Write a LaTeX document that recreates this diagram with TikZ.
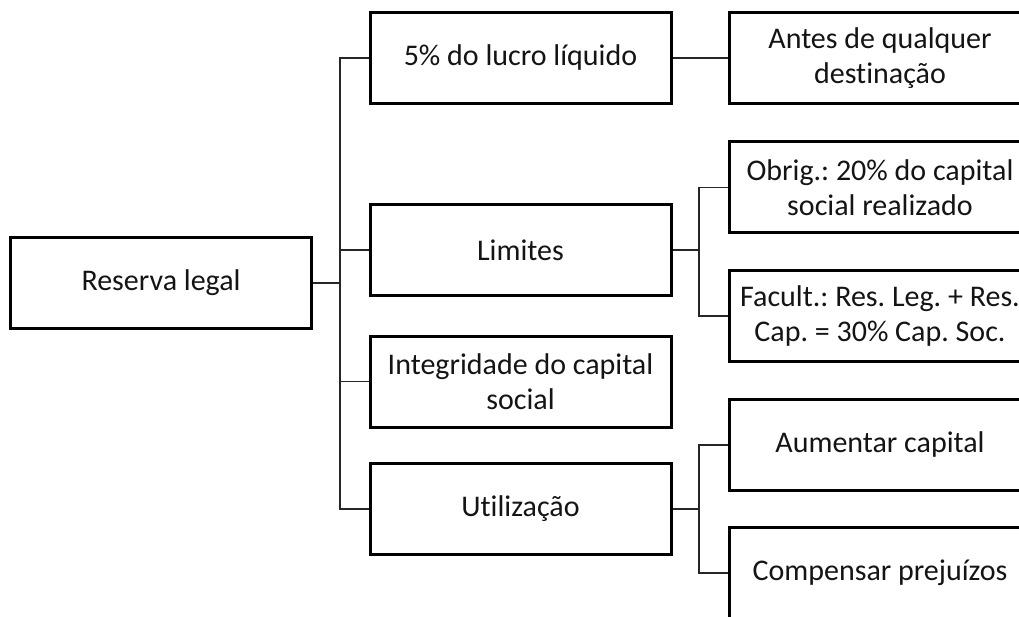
\documentclass[tikz,border=0pt]{standalone}
\usepackage{fontspec}
\setmainfont[Ligatures=NoCommon]{Carlito}
\frenchspacing
\begin{document}
\begin{tikzpicture}[x=1pt,y=-1pt,
  box/.style={draw=black, line width=3pt, minimum width=301pt, minimum height=91pt, inner sep=2pt,
    align=center, font=\fontsize{30}{35.5}\selectfont, text=black!92},
  conn/.style={draw=black!85, line width=1.6pt}]
\clip (0,0) rectangle (1019,617);
\useasboundingbox (0,0) rectangle (1019,617);
\node[box] (rl) at (161,283) {Reserva legal};
\node[box] (p1) at (520.5,58) {5\% do lucro líquido};
\node[box] (p2) at (520.5,250) {Limites};
\node[box] (p3) at (520.5,381.5) {Integridade do capital\\social};
\node[box] (p4) at (520.5,509) {Utilização};
\node[box] (c1) at (880,58) {Antes de qualquer\\destinação};
\node[box] (c2) at (880,187.5) {Obrig.: 20\% do capital\\social realizado};
\node[box] (c3) at (880,316) {Facult.: Res. Leg. + Res.\\Cap. = 30\% Cap. Soc.};
\node[box] (c4) at (880,445) {Aumentar capital};
\node[box] (c5) at (880,573) {Compensar prejuízos};
\coordinate (ta) at (340,0);
\coordinate (tb) at (699,0);
\draw[conn] (rl.east) -- (rl.east -| ta);
\draw[conn] (p1.west) -- (p1.west -| ta) -- (p4.west -| ta) -- (p4.west);
\draw[conn] (p2.west) -- (p2.west -| ta);
\draw[conn] (p3.west) -- (p3.west -| ta);
\draw[conn] (p1.east) -- (c1.west);
\draw[conn] (p2.east) -- (p2.east -| tb);
\draw[conn] (c2.west) -- (c2.west -| tb) -- (c3.west -| tb) -- (c3.west);
\draw[conn] (p4.east) -- (p4.east -| tb);
\draw[conn] (c4.west) -- (c4.west -| tb) -- (c5.west -| tb) -- (c5.west);
\end{tikzpicture}
\end{document}
